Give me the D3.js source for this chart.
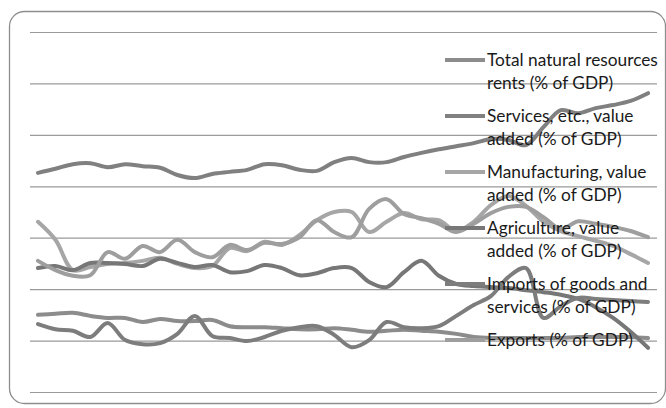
<!DOCTYPE html>
<html>
<head>
<meta charset="utf-8">
<script src="https://cdn.jsdelivr.net/npm/d3@7"></script>
<style>
  body { margin: 0; background: #fff; }
  svg { display: block; }
</style>
</head>
<body>
<div id="chart"></div>
<script>
const years = [1984, 1985, 1986, 1987, 1988, 1989, 1990, 1991, 1992, 1993, 1994, 1995,
  1996, 1997, 1998, 1999, 2000, 2001, 2002, 2003, 2004, 2005, 2006, 2007,
  2008, 2009, 2010, 2011, 2012, 2013, 2014, 2015, 2016, 2017, 2018, 2019];

const labels = [
  ['Total natural resources', 'rents (% of GDP)'],
  ['Services, etc., value', 'added (% of GDP)'],
  ['Manufacturing, value', 'added (% of GDP)'],
  ['Agriculture, value', 'added (% of GDP)'],
  ['Imports of goods and', 'services (% of GDP)'],
  ['Exports (% of GDP)']
];
const colors = ['#8c8c8c', '#808080', '#a6a6a6', '#777777', '#7d7d7d', '#9e9e9e'];

const rents = [15.0, 15.2, 15.4, 14.8, 14.4, 14.4, 13.6, 14.2, 13.8, 13.8, 14.0, 12.8,
  12.6, 12.6, 12.4, 12.2, 12.2, 12.4, 12.1, 11.7, 11.9, 12.1, 11.9, 11.7,
  11.3, 10.7, 10.5, 10.5, 10.5, 10.5, 10.5, 10.7, 10.7, 10.7, 10.7, 10.5];
const services = [42.6, 43.4, 44.3, 44.5, 43.7, 44.3, 43.9, 43.6, 42.2, 41.6, 42.4, 42.8,
  43.2, 44.3, 44.1, 43.2, 43.0, 44.7, 45.5, 44.7, 44.7, 45.7, 46.5, 47.2,
  47.8, 48.4, 49.2, 49.0, 48.0, 51.5, 54.8, 54.2, 55.2, 55.8, 56.6, 58.1];
const manufacturing = [33.1, 29.6, 23.7, 24.3, 24.9, 25.1, 25.5, 26.1, 24.9, 24.1, 24.5, 28.0,
  27.4, 29.2, 28.6, 30.5, 33.4, 35.0, 35.0, 31.1, 33.1, 34.8, 33.6, 33.4,
  31.3, 33.1, 36.4, 38.1, 36.2, 33.1, 31.3, 30.3, 29.4, 28.4, 26.8, 25.1];
const agriculture = [24.1, 24.5, 23.7, 25.1, 25.1, 24.9, 24.5, 25.9, 25.1, 24.3, 24.7, 23.3,
  23.5, 24.7, 24.1, 22.7, 23.1, 24.1, 24.1, 21.4, 20.4, 23.3, 25.5, 22.6,
  21.0, 20.6, 20.4, 20.2, 19.8, 19.4, 18.9, 18.1, 16.5, 14.4, 11.7, 8.6];
const imports = [13.2, 12.2, 11.9, 10.7, 13.4, 10.1, 9.3, 9.5, 11.3, 14.8, 10.9, 10.5,
  9.9, 10.7, 11.9, 12.6, 12.8, 11.1, 8.7, 10.1, 13.6, 12.6, 12.4, 12.8,
  14.8, 16.9, 18.7, 22.4, 24.1, 14.4, 16.7, 18.3, 18.1, 17.9, 17.7, 17.5];
const exports = [25.5, 23.7, 22.6, 22.7, 27.2, 25.9, 28.4, 27.2, 29.6, 27.2, 26.2, 28.6,
  27.6, 29.0, 28.8, 30.1, 33.4, 31.1, 30.1, 35.6, 37.5, 34.6, 33.8, 32.7,
  31.1, 32.7, 34.8, 36.0, 36.0, 34.0, 31.7, 33.2, 32.7, 32.1, 31.3, 30.1];

const allSeries = [rents, services, manufacturing, agriculture, imports, exports];

const width = 666, height = 408;
const svg = d3.select('#chart').append('svg')
  .attr('width', width)
  .attr('height', height);

// outer rounded frame
svg.append('rect')
  .attr('x', 9.5).attr('y', 11.5)
  .attr('width', 656).attr('height', 392)
  .attr('rx', 15)
  .attr('fill', '#fff')
  .attr('stroke', '#8e8e8e')
  .attr('stroke-width', 1.3);

const x = d3.scalePoint().domain(years).range([38, 648]);
const y = d3.scaleLinear().domain([0, 70]).range([392, 32]);

// gridlines, no labels
svg.append('g')
  .attr('transform', 'translate(30,0)')
  .call(d3.axisLeft(y).tickValues(d3.range(0, 71, 10)).tickSize(-627).tickFormat(''))
  .call(g => g.select('.domain').remove())
  .selectAll('line')
  .attr('stroke', '#9a9a9a')
  .attr('stroke-width', 1.2);

const line = d3.line()
  .x((d, i) => x(years[i]))
  .y(d => y(d))
  .curve(d3.curveCatmullRom);

svg.append('g').selectAll('path')
  .data(allSeries)
  .enter()
  .append('path')
  .attr('d', line)
  .attr('fill', 'none')
  .attr('stroke', (d, i) => colors[i])
  .attr('stroke-width', 4)
  .attr('stroke-linejoin', 'round')
  .attr('stroke-linecap', 'round');

// legend
const legend = svg.append('g');
labels.forEach(function (lab, i) {
  const cy = 60 + i * 56;
  legend.append('line')
    .attr('x1', 445).attr('x2', 485)
    .attr('y1', cy).attr('y2', cy)
    .attr('stroke', colors[i])
    .attr('stroke-width', 4);
  lab.forEach(function (t, j) {
    legend.append('text')
      .attr('x', 487)
      .attr('y', cy + j * 23)
      .attr('dy', '0.35em')
      .attr('font-family', 'Lato, sans-serif')
      .attr('font-size', 17.3)
      .attr('fill', '#1a1a1a')
      .text(t);
  });
});
</script>
</body>
</html>
